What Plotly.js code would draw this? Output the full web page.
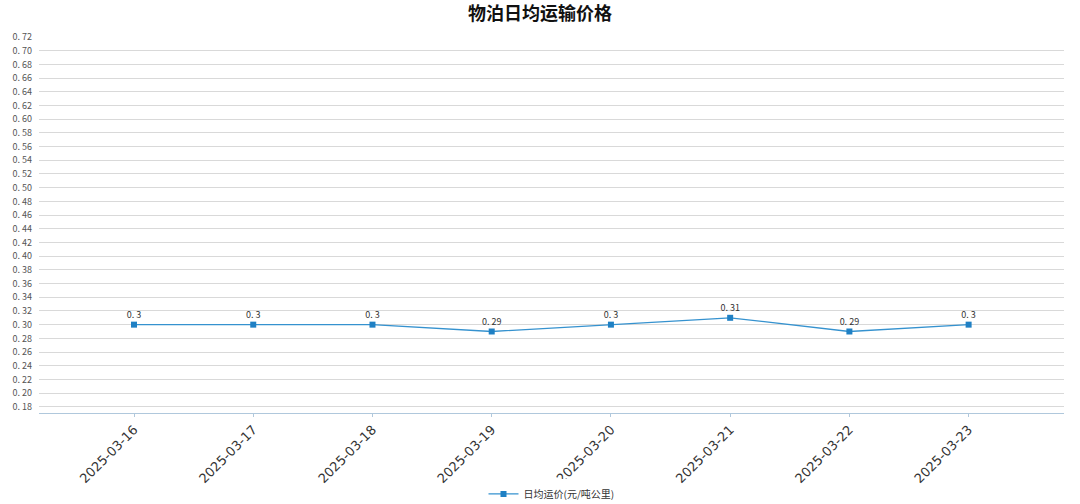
<!DOCTYPE html>
<html><head><meta charset="utf-8">
<script src="https://cdn.plot.ly/plotly-3.0.1.min.js"></script>
<style>html,body{margin:0;padding:0;background:#fff;}#chart{width:1080px;height:504px;}</style>
</head><body><div id="chart"></div>
<script>
const dates = ["2025-03-16","2025-03-17","2025-03-18","2025-03-19","2025-03-20","2025-03-21","2025-03-22","2025-03-23"];
const prices = [0.3, 0.3, 0.3, 0.29, 0.3, 0.31, 0.29, 0.3];
const priceLabels = ["0. 3","0. 3","0. 3","0. 29","0. 3","0. 31","0. 29","0. 3"];
const yTickVals = [0.18,0.20,0.22,0.24,0.26,0.28,0.30,0.32,0.34,0.36,0.38,0.40,0.42,0.44,0.46,0.48,0.50,0.52,0.54,0.56,0.58,0.60,0.62,0.64,0.66,0.68,0.70,0.72];
const yTickText = yTickVals.map(v => "0. " + v.toFixed(2).slice(2));
const seriesName = "日均运价(元/吨公里)";
const chartTitle = "物泊日均运输价格";

const font = "'Noto Sans CJK SC', 'DejaVu Sans', sans-serif";
const trace = {
  x: dates, y: prices, type: "scatter", mode: "lines+markers+text",
  name: seriesName, text: priceLabels, textposition: "top center",
  textfont: {size: 9, color: "#333", family: font},
  line: {color: "#3592cf", width: 1.3},
  marker: {symbol: "square", size: 6, color: "#1f80c4"},
  cliponaxis: false
};
const layout = {
  width: 1080, height: 504,
  margin: {l: 39, r: 16, t: 37, b: 91, autoexpand: false},
  paper_bgcolor: "#fff", plot_bgcolor: "#fff",
  title: {text: "<b>" + chartTitle + "</b>", x: 0.5, xanchor: "center", xref: "container",
          yref: "container", y: 0.972, yanchor: "middle",
          font: {size: 18, color: "#111", family: font}},
  showlegend: true,
  legend: {orientation: "h", x: 0.5, xanchor: "center", yref: "container", y: 0.02, yanchor: "middle",
           font: {size: 10, color: "#333", family: font}, itemwidth: 30},
  xaxis: {type: "category", range: [-0.797, 7.8], tickangle: -45, automargin: false,
          tickfont: {size: 13, color: "#333", family: "'DejaVu Sans', sans-serif"},
          showgrid: false, showline: true, linecolor: "#b0c8dc", linewidth: 1,
          ticks: "outside", ticklen: 3, tickcolor: "#b0c8dc", zeroline: false},
  yaxis: {range: [0.171, 0.72], tickvals: yTickVals, ticktext: yTickText, automargin: false,
          tickfont: {size: 9, color: "#555", family: font},
          showgrid: true, gridcolor: "#d9d9d9", gridwidth: 1, zeroline: false, showline: false,
          ticks: "", ticklabelstandoff: 6}
};
Plotly.newPlot("chart", [trace], layout, {displayModeBar: false, staticPlot: true});
</script></body></html>
